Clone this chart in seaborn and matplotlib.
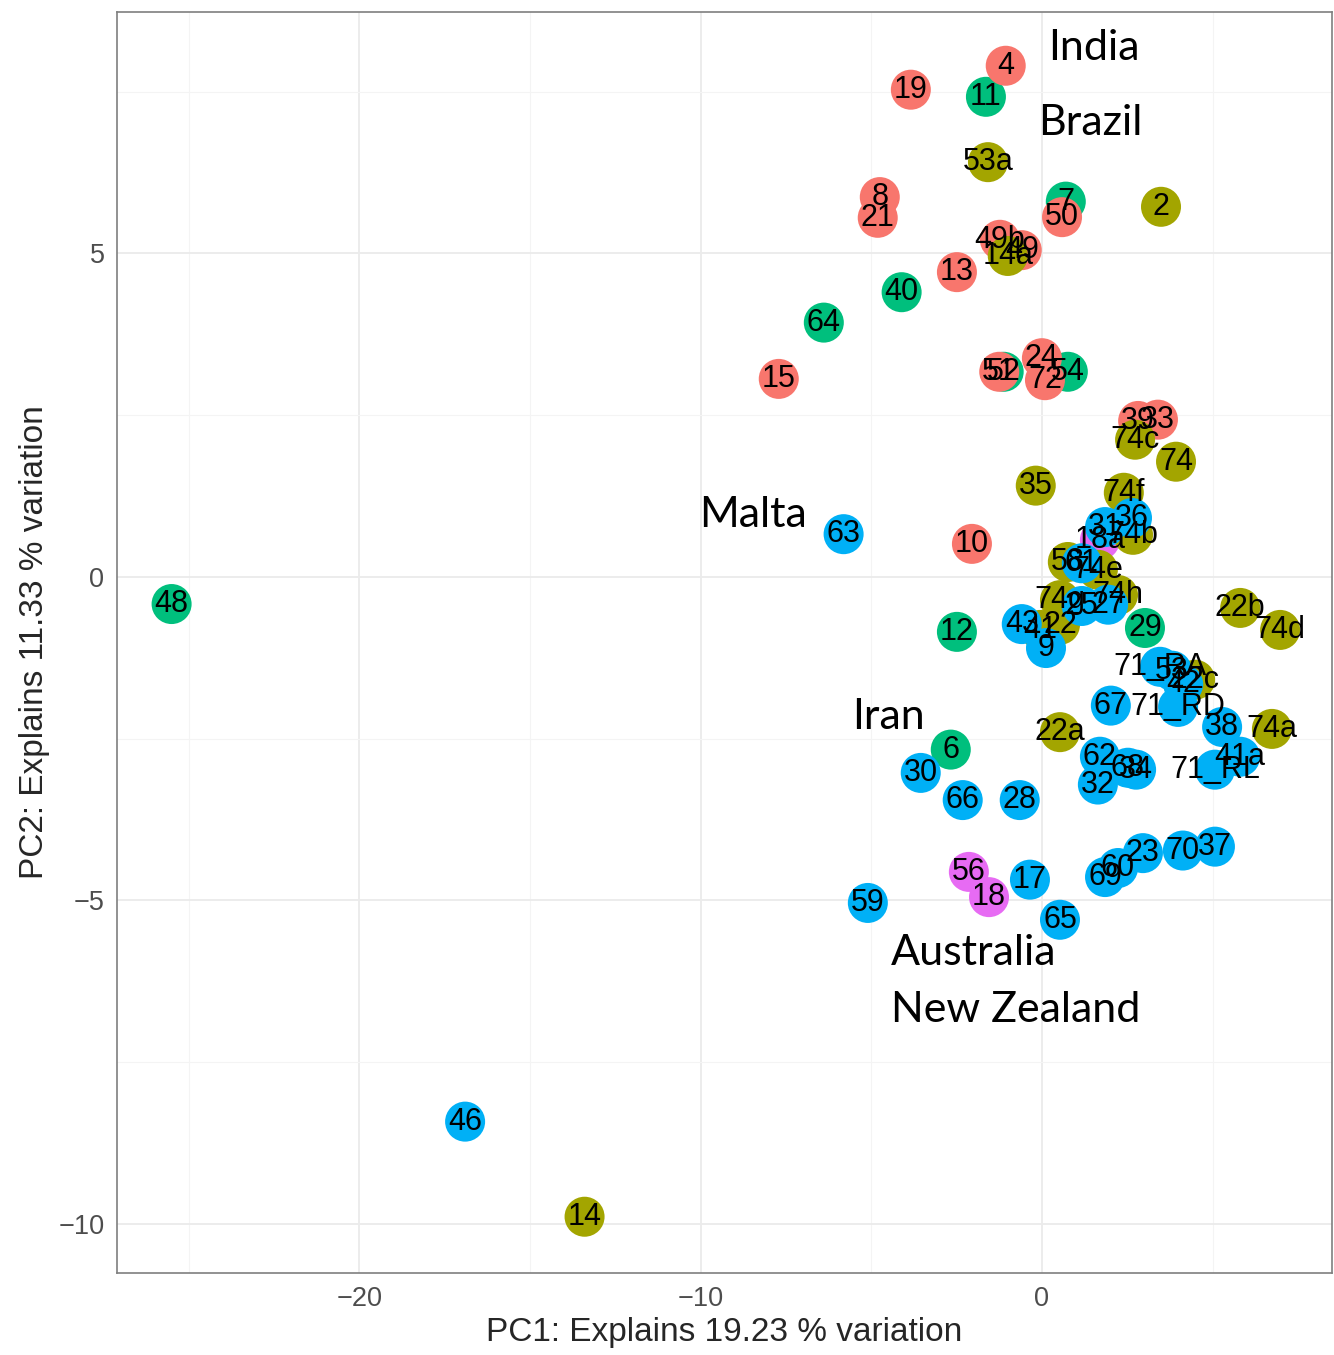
import pandas as pd
import matplotlib
matplotlib.use("Agg")
import matplotlib.pyplot as plt
import seaborn as sns
from matplotlib.ticker import MultipleLocator

# sample labels, groups and PCA scores
labels = ["56", "18", "18a",
          "11", "7", "40", "64", "52", "54", "29", "12", "48", "6",
          "4", "19", "8", "21", "50", "49b", "49", "13", "15", "24", "72", "39", "33", "10", "51",
          "53a", "2", "14a", "74c", "74", "35", "74f", "74b", "58", "74e", "74h", "74g", "22",
          "22b", "74d", "22c", "22a", "74a", "14", "41",
          "63", "31", "36", "61", "9", "43", "25", "27", "71_RA", "53", "42", "67", "71_RD", "38",
          "41a", "71_RL", "62", "68", "34", "32", "30", "66", "28", "23", "70", "37", "60", "69",
          "17", "65", "59", "46"]
groups = (["G5"] * 3 + ["G3"] * 10 + ["G1"] * 15 + ["G2"] * 20 + ["G4"] * 32)
pc1 = [-2.14, -1.55, 1.70,
       -1.64, 0.70, -4.11, -6.39, -1.12, 0.76, 3.02, -2.49, -25.5, -2.67,
       -1.06, -3.84, -4.75, -4.81, 0.59, -1.23, -0.59, -2.49, -7.71, 0.0, 0.09, 2.82, 3.40, -2.05, -1.25,
       -1.58, 3.49, -1.0, 2.73, 3.93, -0.18, 2.40, 2.67, 0.76, 1.64, 2.23, 0.53, 0.53,
       5.81, 6.98, 4.49, 0.53, 6.74, -13.4, -0.05,
       -5.81, 1.85, 2.64, 1.17, 0.12, -0.59, 1.17, 1.94, 3.46, 3.81, 4.14, 2.02, 3.99, 5.28,
       5.81, 5.07, 1.70, 2.52, 2.76, 1.64, -3.55, -2.32, -0.65, 2.96, 4.13, 5.07, 2.23, 1.85,
       -0.35, 0.53, -5.10, -16.9]
pc2 = [-4.56, -4.95, 0.57,
       7.42, 5.80, 4.40, 3.93, 3.17, 3.17, -0.79, -0.85, -0.42, -2.67,
       7.90, 7.53, 5.87, 5.55, 5.56, 5.21, 5.05, 4.71, 3.06, 3.38, 3.04, 2.41, 2.43, 0.51, 3.17,
       6.41, 5.72, 4.96, 2.12, 1.78, 1.41, 1.30, 0.65, 0.23, 0.11, -0.28, -0.36, -0.74,
       -0.48, -0.82, -1.59, -2.40, -2.35, -9.89, -0.82,
       0.66, 0.77, 0.91, 0.21, -1.10, -0.73, -0.45, -0.43, -1.39, -1.45, -1.66, -1.99, -2.01, -2.32,
       -2.78, -2.98, -2.78, -2.95, -2.98, -3.21, -3.03, -3.45, -3.45, -4.27, -4.23, -4.17, -4.50, -4.64,
       -4.68, -5.30, -5.04, -8.42]

regions = ["India", "Brazil", "Malta", "Iran", "Australia", "New Zealand"]
region_x = [0.18, -0.12, -10.03, -5.57, -4.43, -4.43]
region_y = [8.18, 7.02, 0.96, -2.16, -5.81, -6.69]

df = pd.DataFrame({"PC1": pc1, "PC2": pc2, "label": labels, "group": groups})
palette = {"G1": "#F8766D", "G2": "#A3A500", "G3": "#00BF7D", "G4": "#00B0F6", "G5": "#E76BF3"}

sns.set_style("white")
plt.rcParams["font.family"] = ["Liberation Sans", "DejaVu Sans"]

fig = plt.figure(figsize=(13.34, 13.55), dpi=100)
ax = fig.add_axes([0.0877, 0.0605, 0.9108, 0.9306])

sns.scatterplot(data=df, x="PC1", y="PC2", hue="group", palette=palette, s=830,
                linewidth=0, alpha=1, legend=False, ax=ax, zorder=3)
for _, r in df.iterrows():
    ax.text(r.PC1, r.PC2, r.label, ha="center", va="center", fontsize=22, color="black", zorder=4)

for name, x, y in zip(regions, region_x, region_y):
    ax.text(x, y, name, ha="left", va="center", fontsize=31, family="Lato", color="black", zorder=5)

ax.set_xlim(-27.1, 8.5)
ax.set_ylim(-10.76, 8.73)
ax.xaxis.set_minor_locator(MultipleLocator(5))
ax.yaxis.set_minor_locator(MultipleLocator(2.5))
ax.set_xticks([-20, -10, 0])
ax.set_xticklabels(["\u221220", "\u221210", "0"])
ax.set_yticks([-10, -5, 0, 5])
ax.set_yticklabels(["\u221210", "\u22125", "0", "5"])
ax.grid(which="major", color="#EBEBEB", linewidth=1.3, zorder=0)
ax.grid(which="minor", color="#F4F4F4", linewidth=0.8, zorder=0)
ax.set_axisbelow(True)
ax.tick_params(which="major", length=5, width=1, color="#333333", labelsize=19.5, labelcolor="#4D4D4D", pad=4)
ax.tick_params(which="minor", length=0)
for sp in ax.spines.values():
    sp.set_color("#7F7F7F")
    sp.set_linewidth(1.2)
ax.set_xlabel("PC1: Explains 19.23 % variation", fontsize=24, labelpad=4)
ax.set_ylabel("PC2: Explains 11.33 % variation", fontsize=24, labelpad=6)

fig.savefig("out.png", dpi=100)
